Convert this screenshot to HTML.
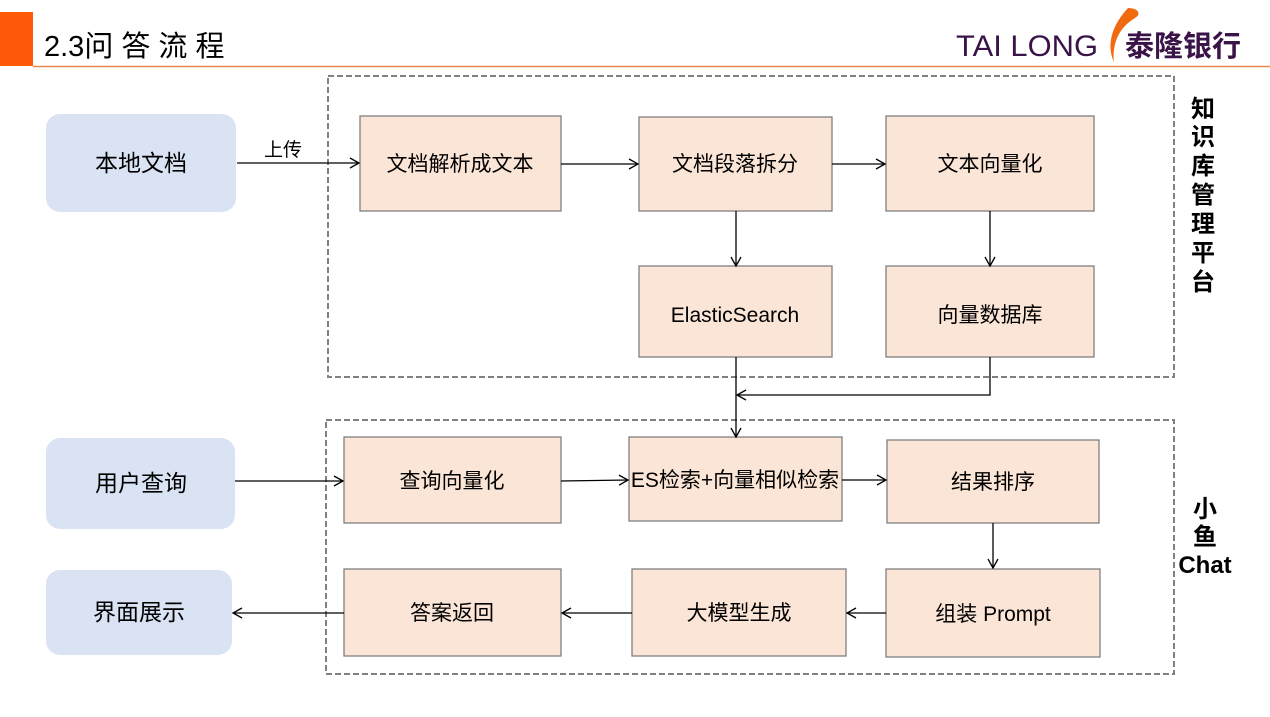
<!DOCTYPE html>
<html><head><meta charset="utf-8"><style>
body{margin:0;background:#fff;width:1270px;height:712px;overflow:hidden;font-family:"Liberation Sans","Noto Sans CJK SC",sans-serif}
</style></head><body>
<svg width="1270" height="712" xmlns="http://www.w3.org/2000/svg" font-family="Liberation Sans, Noto Sans CJK SC, sans-serif">
<defs><marker id="a" markerWidth="12" markerHeight="12" refX="10" refY="6" orient="auto" markerUnits="userSpaceOnUse"><path d="M1,1 L10,6 L1,11" fill="none" stroke="#000" stroke-width="1.3"/></marker></defs>
<rect x="0" y="12" width="33" height="54" fill="#ff5a0a"/>
<line x1="33" y1="66.5" x2="1270" y2="66.5" stroke="#e88a50" stroke-width="1.5"/>
<text x="44" y="56" font-size="29" fill="#000">2.3问 答 流 程</text>
<text x="956" y="56" font-size="30" fill="#3a1448" textLength="142" lengthAdjust="spacingAndGlyphs">TAI LONG</text>
<path d="M1128,8 C1112,25 1106,45 1114,62 C1112,45 1118,28 1135,18 C1142,14 1138,8 1128,8Z" fill="#f26a10"/>
<text x="1125" y="56" font-size="29" font-weight="bold" fill="#3a1448">泰隆银行</text>
<g fill="none" stroke="#808080" stroke-width="2" stroke-dasharray="6,3">
<rect x="328" y="76" width="846" height="301"/>
<rect x="326" y="420" width="848" height="254"/>
</g>
<g fill="#dae3f3">
<rect x="46" y="114" width="190" height="98" rx="14"/>
<rect x="46" y="438" width="189" height="91" rx="14"/>
<rect x="46" y="570" width="186" height="85" rx="14"/>
</g>
<g fill="#fbe5d6" stroke="#7f7f7f" stroke-width="1.3">
<rect x="360" y="116" width="201" height="95"/>
<rect x="639" y="117" width="193" height="94"/>
<rect x="886" y="116" width="208" height="95"/>
<rect x="639" y="266" width="193" height="91"/>
<rect x="886" y="266" width="208" height="91"/>
<rect x="344" y="437" width="217" height="86"/>
<rect x="629" y="437" width="213" height="84"/>
<rect x="887" y="440" width="212" height="83"/>
<rect x="344" y="569" width="217" height="87"/>
<rect x="632" y="569" width="214" height="87"/>
<rect x="886" y="569" width="214" height="88"/>
</g>
<g font-size="21" text-anchor="middle" fill="#000">
<text x="141" y="171" font-size="23">本地文档</text>
<text x="141" y="491" font-size="23">用户查询</text>
<text x="139" y="620" font-size="23">界面展示</text>
<text x="460" y="171">文档解析成文本</text>
<text x="735" y="171">文档段落拆分</text>
<text x="990" y="171">文本向量化</text>
<text x="735" y="322">ElasticSearch</text>
<text x="990" y="322">向量数据库</text>
<text x="452" y="488">查询向量化</text>
<text x="735" y="487">ES检索+向量相似检索</text>
<text x="993" y="489">结果排序</text>
<text x="452" y="620">答案返回</text>
<text x="739" y="620">大模型生成</text>
<text x="993" y="621">组装 Prompt</text>
<text x="283" y="156" font-size="19">上传</text>
</g>
<g font-size="24" font-weight="bold" text-anchor="middle" fill="#000">
<text x="1203" y="117">知</text><text x="1203" y="145">识</text><text x="1203" y="174">库</text><text x="1203" y="203">管</text><text x="1203" y="232">理</text><text x="1203" y="261">平</text><text x="1203" y="290">台</text>
<text x="1205" y="517">小</text><text x="1205" y="545">鱼</text><text x="1205" y="573">Chat</text>
</g>
<g stroke="#000" stroke-width="1.3" fill="none" marker-end="url(#a)">
<line x1="237" y1="163" x2="359" y2="163"/>
<line x1="561" y1="164" x2="638" y2="164"/>
<line x1="832" y1="164" x2="885" y2="164"/>
<line x1="736" y1="211" x2="736" y2="266"/>
<line x1="990" y1="211" x2="990" y2="266"/>
<line x1="736" y1="357" x2="736" y2="437"/>
<polyline points="990,357 990,395 737,395"/>
<line x1="235" y1="481" x2="343" y2="481"/>
<line x1="561" y1="481" x2="628" y2="480"/>
<line x1="842" y1="480" x2="886" y2="480"/>
<line x1="993" y1="523" x2="993" y2="568"/>
<line x1="886" y1="613" x2="847" y2="613"/>
<line x1="632" y1="613" x2="562" y2="613"/>
<line x1="344" y1="613" x2="233" y2="613"/>
</g>
</svg>
</body></html>
